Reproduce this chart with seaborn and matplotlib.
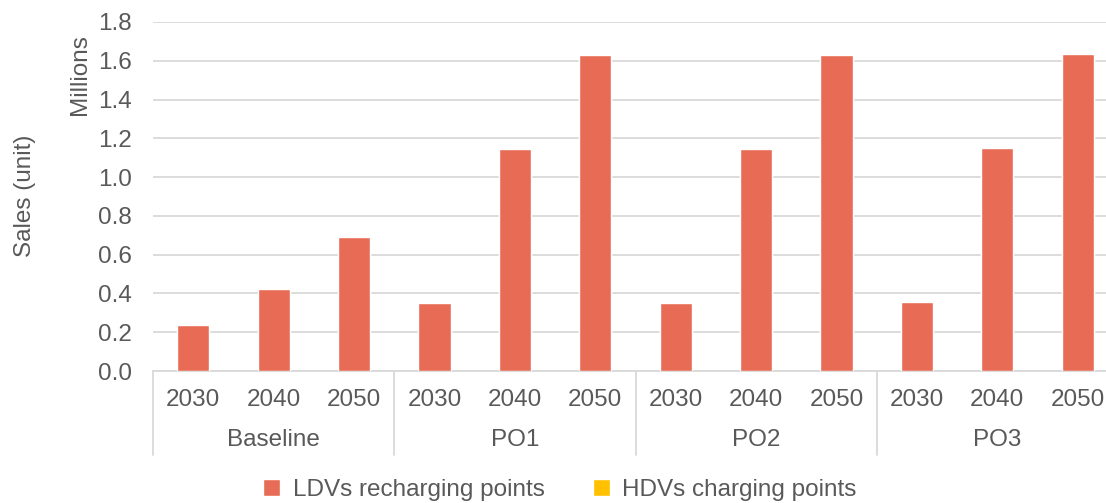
import numpy as np
import pandas as pd
import seaborn as sns
from matplotlib import pyplot as plt
from matplotlib.patches import Patch

# values (millions of units)
scenarios = ["Baseline", "PO1", "PO2", "PO3"]
years = ["2030", "2040", "2050"]
ldv_points = [0.235, 0.423, 0.693, 0.353, 1.143, 1.63, 0.353, 1.143, 1.63, 0.358, 1.15, 1.635]
hdv_points = [0.003, 0.004, 0.005, 0.003, 0.004, 0.005, 0.003, 0.004, 0.005, 0.003, 0.004, 0.006]

ldv_color = "#E86C55"
hdv_color = "#FFC000"
text_color = "#595959"
grid_color = "#D9D9D9"

df = pd.DataFrame({
    "scenario": np.repeat(scenarios, len(years)),
    "year": years * len(scenarios),
    "ldv": ldv_points,
    "hdv": hdv_points,
})
df["cat"] = df["scenario"] + " " + df["year"]
df["total"] = df["ldv"] + df["hdv"]

sns.set_theme(style="white")
plt.rcParams["font.family"] = ["Liberation Sans", "DejaVu Sans"]
fs = 17.5

fig = plt.figure(figsize=(11.06, 5.03), dpi=100)
ax = fig.add_axes([153 / 1106, 1 - 371 / 503, 965 / 1106, 349 / 503])

# stacked: total in HDV colour, LDV drawn on top
sns.barplot(data=df, x="cat", y="total", color=hdv_color, width=0.4,
            saturation=1, ax=ax, zorder=2)
sns.barplot(data=df, x="cat", y="ldv", color=ldv_color, width=0.4,
            saturation=1, ax=ax, zorder=3)

ax.set_ylim(0, 1.8)
ax.set_xlim(-0.5, len(df) - 0.5)
ax.set_yticks(np.arange(0, 1.81, 0.2))
ax.set_yticklabels([f"{v:.1f}" for v in np.arange(0, 1.81, 0.2)])
ax.yaxis.grid(True, color=grid_color, linewidth=1.3, zorder=0)
ax.set_axisbelow(True)
for s in ["left", "right", "top"]:
    ax.spines[s].set_visible(False)
ax.spines["bottom"].set_color(grid_color)
ax.spines["bottom"].set_linewidth(1.3)

ax.set_xticks(range(len(df)))
ax.set_xticklabels(df["year"])
ax.tick_params(axis="x", length=0, pad=13, labelsize=fs, labelcolor=text_color)
ax.tick_params(axis="y", length=0, pad=15, labelsize=fs, labelcolor=text_color)
ax.set_xlabel("")
ax.set_ylabel("")

# group separators and group labels
trans = ax.get_xaxis_transform()
for i in range(len(scenarios) + 1):
    ax.plot([i * 3 - 0.5, i * 3 - 0.5], [0, -0.24], transform=trans,
            color=grid_color, linewidth=1.3, clip_on=False)
for i, name in enumerate(scenarios):
    ax.text(i * 3 + 1, -0.198, name, transform=trans, ha="center", va="center",
            fontsize=fs, color=text_color)

fig.text(25 / 1106, 1 - 196 / 503, "Sales (unit)", rotation=90, ha="center",
         va="center", fontsize=fs, color=text_color)
fig.text(80 / 1106, 1 - 75 / 503, "Millions", rotation=90, ha="center",
         va="center", fontsize=fs, color=text_color)

handles = [Patch(facecolor=ldv_color, label="LDVs recharging points"),
           Patch(facecolor=hdv_color, label="HDVs charging points")]
leg = fig.legend(handles=handles, loc="center", bbox_to_anchor=(560 / 1106, 1 - 490 / 503),
                 ncol=2, frameon=False, fontsize=fs, handlelength=0.7,
                 handleheight=0.7, handletextpad=0.5, columnspacing=2.0)
for t in leg.get_texts():
    t.set_color(text_color)

fig.savefig("out.png", dpi=100)
